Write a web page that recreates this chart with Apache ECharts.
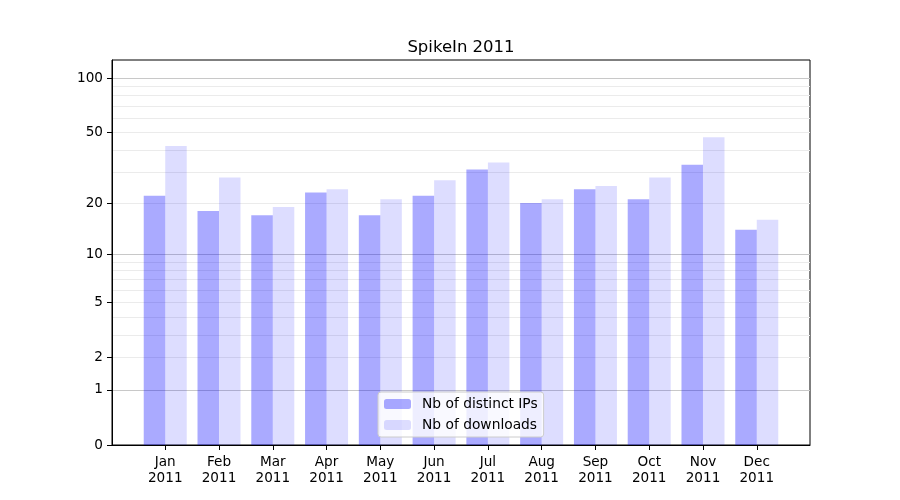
<!DOCTYPE html>
<html>
<head>
<meta charset="utf-8">
<script src="https://cdn.jsdelivr.net/npm/echarts@6/dist/echarts.min.js"></script>
<style>html,body{margin:0;padding:0;background:#fff}#c{width:900px;height:500px}</style>
</head>
<body>
<div id="c"></div>
<script>
var months = ['Jan','Feb','Mar','Apr','May','Jun','Jul','Aug','Sep','Oct','Nov','Dec'];
var yearLabel = '2011';
var distinctIPs = [22, 18, 17, 23, 17, 22, 31, 20, 24, 21, 33, 14];
var downloads   = [42, 28, 19, 24, 21, 27, 34, 21, 25, 28, 47, 16];
var yTickLabels = [0, 1, 2, 5, 10, 20, 50, 100];
var majorGrid = [1, 10, 100];
var minorGrid = [2,3,4,5,6,7,8,9,20,30,40,50,60,70,80,90];

// symmetric-log style scale: y = log10(1 + v)
function tf(v){ return Math.log10(1 + v); }
function inv(t){ return Math.pow(10, t) - 1; }
var yMax = tf(126);

var chart = echarts.init(document.getElementById('c'), null, {renderer:'canvas'});
var font = 'DejaVu Sans';
function hiddenY(vals, color){
  return {
    type:'value', min:0, max:yMax, position:'left',
    axisLine:{show:false, onZero:false}, axisTick:{show:false, customValues: vals.map(tf)},
    axisLabel:{show:false, customValues: vals.map(tf)},
    splitLine:{show:true, lineStyle:{color:color, width:1}}
  };
}
chart.setOption({
  animation:false,
  textStyle:{fontFamily:font},
  title:{text:'SpikeIn 2011', left:456, top:34, textAlign:'center',
         textStyle:{fontFamily:font, fontSize:16.5, fontWeight:'normal', color:'#000'}},
  grid:{left:112, right:90, top:60, bottom:55, show:true, borderColor:'#000', borderWidth:1, backgroundColor:'transparent'},
  legend:{
    orient:'vertical', left:378, top:392,
    itemWidth:27, itemHeight:10, itemGap:7,
    padding:[5,6,5,6],
    backgroundColor:'rgba(255,255,255,0.8)', borderColor:'#cccccc', borderWidth:1, borderRadius:3,
    textStyle:{fontFamily:font, fontSize:13.8, color:'#000', padding:[0,0,0,6]},
    data:['Nb of distinct IPs','Nb of downloads']
  },
  xAxis:{
    type:'value', min:-0.99, max:11.99,
    axisLine:{show:true, onZero:false, lineStyle:{color:'#000'}},
    axisTick:{show:true, length:5, customValues: months.map(function(m,i){return i;}), lineStyle:{color:'#000'}},
    axisLabel:{customValues: months.map(function(m,i){return i;}), margin:9, color:'#000', fontFamily:font, fontSize:13.6, lineHeight:16,
      formatter:function(v){ return months[Math.round(v)] + '\n' + yearLabel; }},
    splitLine:{show:false}
  },
  yAxis:[
    {
      type:'value', min:0, max:yMax, position:'left',
      axisLine:{show:true, onZero:false, lineStyle:{color:'#000'}},
      axisTick:{show:true, length:5, customValues: yTickLabels.map(tf), lineStyle:{color:'#000'}},
      axisLabel:{customValues: yTickLabels.map(tf), margin:9, color:'#000', fontFamily:font, fontSize:13.6,
        formatter:function(t){ return String(Math.round(inv(t))); }},
      splitLine:{show:false}
    },
    hiddenY(minorGrid, '#ebebeb'),
    hiddenY(majorGrid, '#c8c8c8')
  ],
  series:[
    {name:'Nb of distinct IPs', type:'bar', barWidth:'40%', barGap:'0%', yAxisIndex:0,
     itemStyle:{color:'rgba(0,0,255,0.333)'},
     data: distinctIPs.map(function(v,i){ return [i, tf(v)]; })},
    {name:'Nb of downloads', type:'bar', barWidth:'40%', barGap:'0%', yAxisIndex:0,
     itemStyle:{color:'rgba(0,0,255,0.133)'},
     data: downloads.map(function(v,i){ return [i, tf(v)]; })}
  ]
});
</script>
</body>
</html>
